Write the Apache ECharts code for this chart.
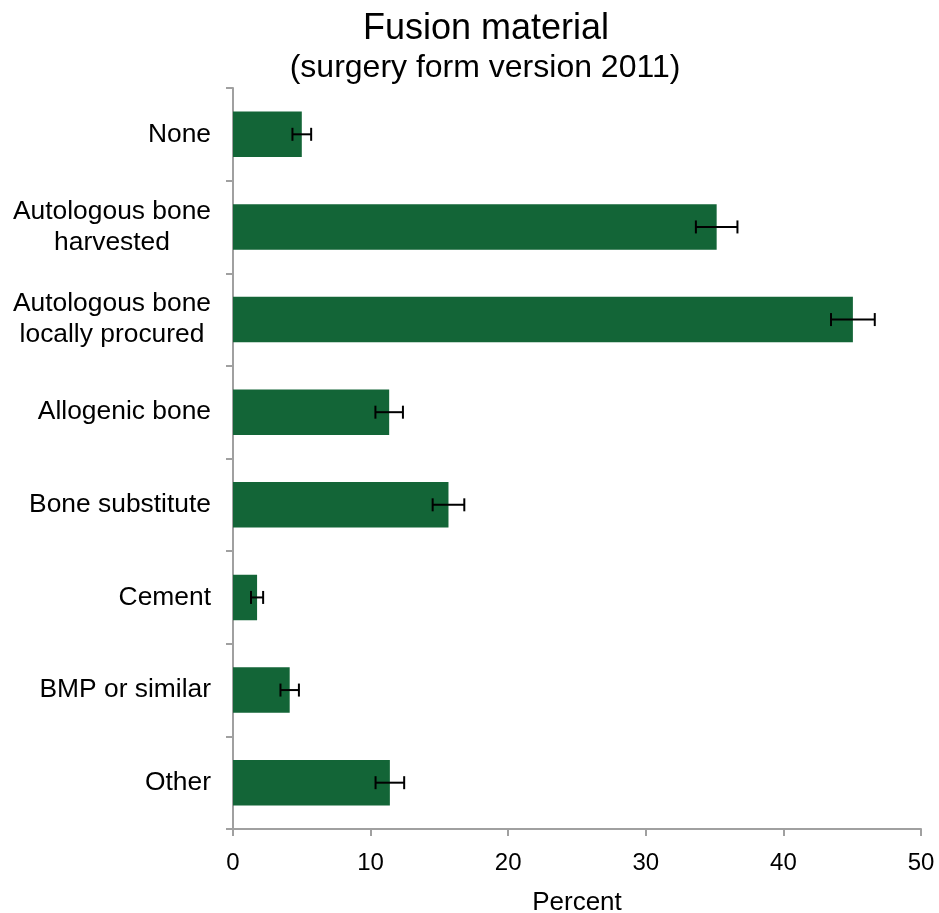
<!DOCTYPE html>
<html>
<head>
<meta charset="utf-8">
<script src="https://cdn.jsdelivr.net/npm/echarts@6/dist/echarts.min.js"></script>
<style>
html,body{margin:0;padding:0;background:#fff;}
#chart{width:939px;height:913px;}
</style>
</head>
<body>
<div id="chart"></div>
<script>
var titleText = 'Fusion material';
var subtitleText = '(surgery form version 2011)';
var axisName = 'Percent';
var categories = ['None', 'Autologous bone\nharvested', 'Autologous bone\nlocally procured', 'Allogenic bone', 'Bone substitute', 'Cement', 'BMP or similar', 'Other'];
var values = [5.0, 35.15, 45.05, 11.35, 15.66, 1.75, 4.12, 11.4];
var errors = [0.68, 1.51, 1.59, 1.0, 1.15, 0.44, 0.67, 1.04];
var xTicks = [0, 10, 20, 30, 40, 50];

var FONT = '"Liberation Sans", Arial, sans-serif';
var chart = echarts.init(document.getElementById('chart'), null, {renderer: 'canvas'});

var errData = values.map(function (v, i) { return [v - errors[i], v + errors[i], i]; });

chart.setOption({
  animation: false,
  backgroundColor: '#ffffff',
  title: [
    {text: titleText, left: 481, top: 6, textAlign: 'center',
     textStyle: {fontFamily: FONT, fontSize: 36, fontWeight: 'normal', color: '#000'}},
    {text: subtitleText, left: 480, top: 47, textAlign: 'center',
     textStyle: {fontFamily: FONT, fontSize: 32, fontWeight: 'normal', color: '#000'}}
  ],
  grid: {left: 233, right: 18, top: 88, bottom: 84, containLabel: false, outerBoundsMode: 'none'},
  xAxis: {
    type: 'value', min: xTicks[0], max: xTicks[xTicks.length - 1], interval: 10,
    name: axisName, nameLocation: 'middle', nameGap: 61,
    nameTextStyle: {fontFamily: FONT, fontSize: 26, color: '#000'},
    axisLine: {show: true, lineStyle: {color: '#a0a0a0', width: 2}},
    axisTick: {show: true, length: 7, lineStyle: {color: '#a0a0a0', width: 2}},
    axisLabel: {fontFamily: FONT, fontSize: 24, color: '#000', margin: 22},
    splitLine: {show: false}
  },
  yAxis: {
    type: 'category', inverse: true, data: categories,
    axisLine: {show: true, lineStyle: {color: '#a0a0a0', width: 2}},
    axisTick: {show: true, length: 7, alignWithLabel: false, lineStyle: {color: '#a0a0a0', width: 2}},
    axisLabel: {
      fontFamily: FONT, fontSize: 26.4, color: '#000', margin: 22, lineHeight: 31,
      formatter: function (val) {
        if (val.indexOf('\n') < 0) return val;
        return val.split('\n').map(function (s) { return '{c|' + s + '}'; }).join('\n');
      },
      rich: {c: {fontFamily: FONT, fontSize: 26.4, color: '#000', width: 198, align: 'center', lineHeight: 31}}
    },
    splitLine: {show: false}
  },
  series: [
    {
      type: 'bar', data: values, barWidth: '49%',
      itemStyle: {color: '#136537'}
    },
    {
      type: 'custom', data: errData, encode: {x: [0, 1], y: 2}, z: 5,
      renderItem: function (params, api) {
        var a = api.coord([api.value(0), api.value(2)]);
        var b = api.coord([api.value(1), api.value(2)]);
        var h = 6.5;
        var st = {stroke: '#000', lineWidth: 2};
        return {
          type: 'group',
          children: [
            {type: 'line', shape: {x1: a[0], y1: a[1], x2: b[0], y2: b[1]}, style: st},
            {type: 'line', shape: {x1: a[0], y1: a[1] - h, x2: a[0], y2: a[1] + h}, style: st},
            {type: 'line', shape: {x1: b[0], y1: b[1] - h, x2: b[0], y2: b[1] + h}, style: st}
          ]
        };
      }
    }
  ]
});
</script>
</body>
</html>
